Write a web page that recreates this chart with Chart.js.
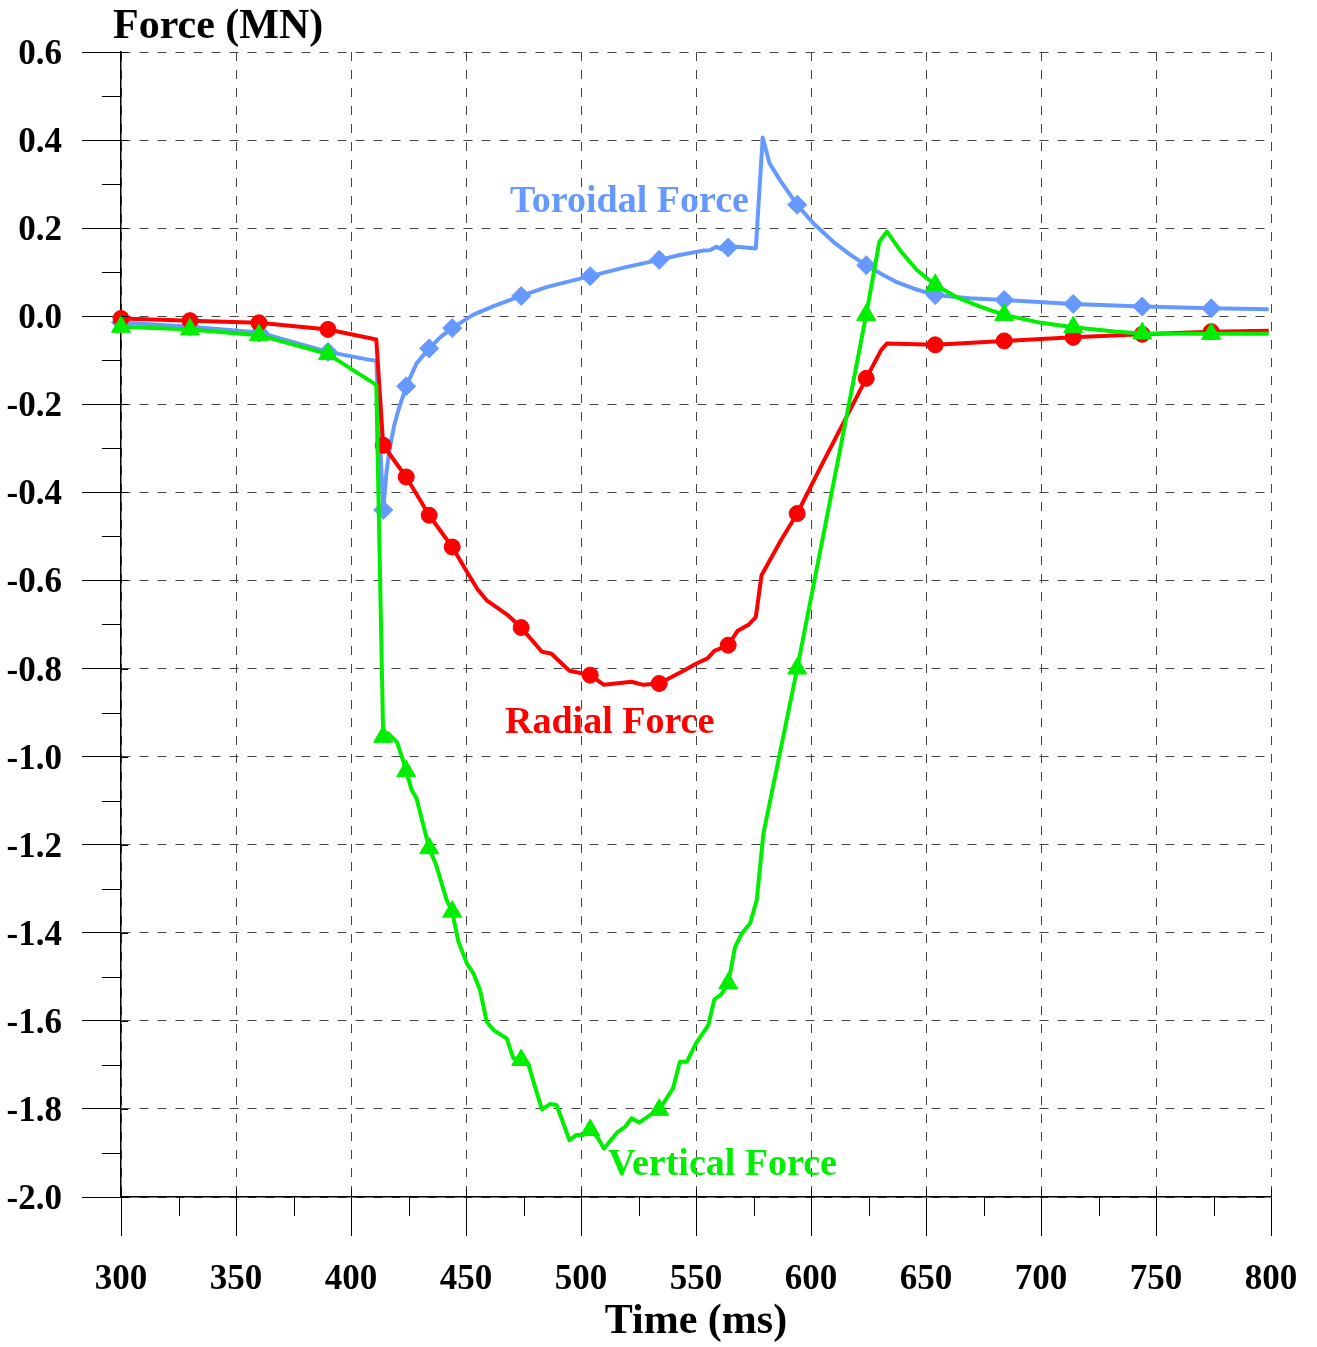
<!DOCTYPE html>
<html>
<head>
<meta charset="utf-8">
<script src="https://cdn.jsdelivr.net/npm/chart.js@4.4.1/dist/chart.umd.min.js"></script>
<style>
  html, body { margin: 0; padding: 0; background: #ffffff; }
  #wrap { width: 1317px; height: 1347px; }
</style>
</head>
<body>
<div id="wrap"><canvas id="c" width="1317" height="1347"></canvas></div>
<script>
// ---------- data ----------
const xTitle = 'Time (ms)';
const yTitle = 'Force (MN)';
const seriesNames = ['Toroidal Force', 'Radial Force', 'Vertical Force'];
const markerTimes = [300, 330, 360, 390, 414, 424, 434, 444, 474, 504, 534, 564, 594, 624, 654, 684, 714, 744, 774];

const toroidalT = [300, 330, 360, 390, 407, 411, 414, 415.5, 417, 418.7, 420.6, 424, 428.5, 434, 439, 444, 453, 462, 474, 485, 504, 520, 534, 543, 553, 556, 559, 561, 564, 568, 576, 579, 582, 586.5, 594, 601, 609.7, 617, 624, 631, 637, 644.5, 654, 669, 684, 714, 744, 774, 799];
const toroidalV = [-0.014, -0.024, -0.037, -0.081, -0.098, -0.101, -0.440, -0.350, -0.296, -0.250, -0.213, -0.159, -0.107, -0.073, -0.047, -0.027, 0.003, 0.023, 0.046, 0.066, 0.091, 0.112, 0.128, 0.139, 0.149, 0.150, 0.158, 0.152, 0.156, 0.158, 0.154, 0.406, 0.347, 0.309, 0.253, 0.211, 0.169, 0.140, 0.116, 0.095, 0.078, 0.063, 0.048, 0.041, 0.037, 0.028, 0.022, 0.018, 0.016];

const radialT = [300, 330, 360, 390, 411, 414, 424, 434, 444, 450, 455, 459, 468, 474, 483, 487, 495, 504, 510, 522, 527, 534, 545, 550, 555, 558, 564, 568, 573, 576, 578.5, 587, 594, 605, 615.5, 624, 630.5, 633, 654, 684, 714, 744, 774, 799];
const radialV = [-0.005, -0.010, -0.015, -0.030, -0.053, -0.293, -0.365, -0.452, -0.524, -0.577, -0.620, -0.645, -0.678, -0.707, -0.762, -0.766, -0.805, -0.815, -0.837, -0.830, -0.837, -0.834, -0.804, -0.789, -0.777, -0.760, -0.747, -0.715, -0.700, -0.683, -0.588, -0.508, -0.448, -0.334, -0.228, -0.141, -0.077, -0.062, -0.065, -0.056, -0.048, -0.041, -0.035, -0.033];

const verticalT = [300, 330, 360, 390, 411, 414, 416, 420, 422.7, 424, 426.4, 428.5, 434, 437, 441.6, 444, 446.7, 450.3, 453.2, 456.1, 459, 462, 467.7, 470.6, 474, 477, 483, 486.5, 489.4, 495, 498, 501, 504, 507, 510, 516, 519, 522, 525.3, 530, 534, 540, 543, 546, 550, 555.4, 558, 561, 564, 567, 570, 573.5, 576.4, 579.3, 594, 616, 624, 629.7, 633, 638.7, 646, 654, 663, 673.5, 684, 700, 714, 733, 744, 774, 799];
const verticalV = [-0.024, -0.030, -0.043, -0.086, -0.156, -0.955, -0.947, -0.967, -1.010, -1.033, -1.076, -1.095, -1.208, -1.246, -1.326, -1.352, -1.420, -1.469, -1.492, -1.530, -1.602, -1.621, -1.640, -1.685, -1.689, -1.697, -1.801, -1.789, -1.791, -1.871, -1.859, -1.859, -1.848, -1.863, -1.890, -1.852, -1.842, -1.821, -1.831, -1.814, -1.802, -1.753, -1.693, -1.693, -1.651, -1.609, -1.551, -1.540, -1.515, -1.432, -1.401, -1.379, -1.326, -1.175, -0.800, -0.213, 0.003, 0.169, 0.192, 0.150, 0.105, 0.071, 0.044, 0.022, 0.003, -0.015, -0.025, -0.035, -0.039, -0.040, -0.040];

const xMin = 300, xMax = 800, xStep = 50;
const yMin = -2.0, yMax = 0.6, yStep = 0.2;

// ---------- helpers ----------
const FONT = '"Liberation Serif", "Times New Roman", serif';
const pts = (ts, vs) => ts.map((t, i) => ({ x: t, y: vs[i] }));
const isMarker = c => c.raw && markerTimes.includes(c.raw.x);

function txt(ctx, text, x, y, size, align, color) {
  ctx.save();
  ctx.font = 'bold ' + size + 'px ' + FONT;
  ctx.fillStyle = color;
  ctx.textAlign = align;
  ctx.textBaseline = 'alphabetic';
  ctx.fillText(text, x, y);
  ctx.restore();
}

const BLUE = '#6699ff', RED = '#ff0000', GREEN = '#00ee00';

const decorPlugin = {
  id: 'decor',
  beforeDraw(chart) {
    const c = chart.ctx;
    c.save();
    c.fillStyle = '#ffffff';
    c.fillRect(0, 0, chart.width, chart.height);
    c.restore();
  },
  afterDraw(chart) {
    const c = chart.ctx;
    const xs = chart.scales.x, ys = chart.scales.y;
    const area = chart.chartArea;
    c.save();
    c.strokeStyle = '#000';
    c.lineWidth = 1;
    for (let v = yMin; v <= yMax + 1e-9; v += yStep / 2) {
      const py = Math.round(ys.getPixelForValue(v)) + 0.5;
      const major = Math.abs(Math.round(v / yStep) * yStep - v) < 1e-6;
      c.beginPath();
      if (major) { c.moveTo(area.left, py); c.lineTo(area.left + 7, py); }
      else { c.moveTo(area.left - 19, py); c.lineTo(area.left, py); }
      c.stroke();
    }
    for (let t = xMin; t <= xMax + 1e-9; t += xStep / 2) {
      const px = Math.round(xs.getPixelForValue(t)) + 0.5;
      const major = (t - xMin) % xStep === 0;
      c.beginPath();
      if (major) { c.moveTo(px, area.bottom - 8); c.lineTo(px, area.bottom); }
      else { c.moveTo(px, area.bottom); c.lineTo(px, area.bottom + 19); }
      c.stroke();
    }
    c.restore();

    ys.ticks.forEach(tk => {
      const py = ys.getPixelForValue(tk.value);
      txt(c, tk.value.toFixed(1), 62, py + 12, 35, 'right', '#000');
    });
    xs.ticks.forEach(tk => {
      const px = xs.getPixelForValue(tk.value);
      txt(c, String(Math.round(tk.value)), px, 1289, 35, 'center', '#000');
    });
    txt(c, yTitle, 113, 38, 42, 'left', '#000');
    txt(c, xTitle, (area.left + area.right) / 2, 1333, 42, 'center', '#000');

    txt(c, seriesNames[0], 510, 212, 38, 'left', BLUE);
    txt(c, seriesNames[1], 505, 733, 38, 'left', RED);
    txt(c, seriesNames[2], 608, 1175, 38, 'left', GREEN);
  }
};

const common = { fill: false, tension: 0, borderWidth: 4, pointBorderWidth: 1, clip: false, borderJoinStyle: 'round' };

new Chart(document.getElementById('c'), {
  type: 'line',
  data: {
    datasets: [
      Object.assign({}, common, {
        label: seriesNames[2], data: pts(verticalT, verticalV),
        borderColor: GREEN, backgroundColor: GREEN, pointBackgroundColor: GREEN, pointBorderColor: GREEN,
        pointStyle: 'triangle', pointRadius: c => isMarker(c) ? 11 : 0
      }),
      Object.assign({}, common, {
        label: seriesNames[1], data: pts(radialT, radialV),
        borderColor: RED, backgroundColor: RED, pointBackgroundColor: RED, pointBorderColor: RED,
        pointStyle: 'circle', pointRadius: c => isMarker(c) ? 8 : 0
      }),
      Object.assign({}, common, {
        label: seriesNames[0], data: pts(toroidalT, toroidalV),
        borderColor: BLUE, backgroundColor: BLUE, pointBackgroundColor: BLUE, pointBorderColor: BLUE,
        pointStyle: 'rectRot', pointRadius: c => isMarker(c) ? 9.5 : 0
      })
    ]
  },
  options: {
    responsive: false,
    animation: false,
    events: [],
    layout: { padding: { left: 0, right: 46, top: 52, bottom: 0 } },
    plugins: { legend: { display: false }, tooltip: { enabled: false }, title: { display: false } },
    scales: {
      x: {
        type: 'linear', min: xMin, max: xMax,
        ticks: { stepSize: xStep, display: false },
        grid: { color: '#444', lineWidth: 1, drawTicks: true, tickLength: 39, tickColor: '#000', tickWidth: 1 },
        border: { display: true, color: '#000', width: 1.5, dash: [9, 9] },
        afterFit: s => { s.height = 150; }
      },
      y: {
        type: 'linear', min: yMin, max: yMax,
        ticks: { stepSize: yStep, display: false },
        grid: { color: '#444', lineWidth: 1, drawTicks: true, tickLength: 39, tickColor: '#000', tickWidth: 1 },
        border: { display: true, color: '#000', width: 1.5, dash: [9, 9] },
        afterFit: s => { s.width = 121; }
      }
    }
  },
  plugins: [decorPlugin]
});
</script>
</body>
</html>
